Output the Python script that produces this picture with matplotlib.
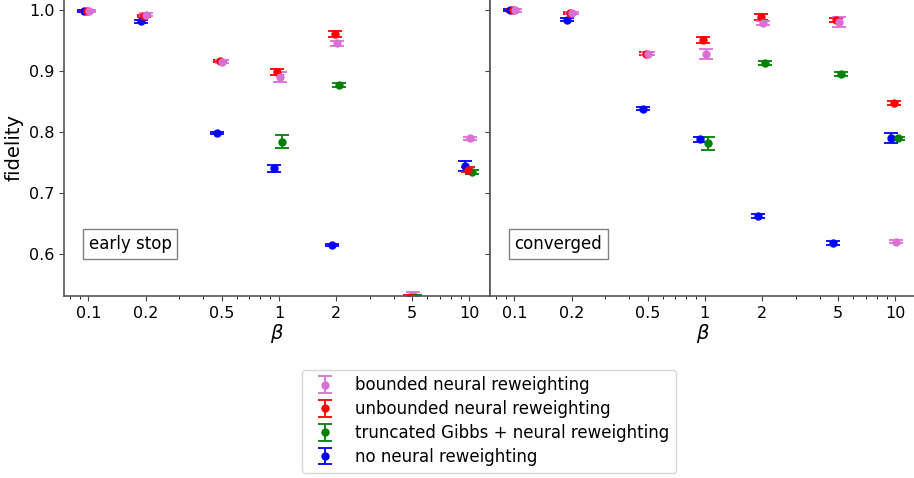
import numpy as np
import matplotlib
matplotlib.use("Agg")
import matplotlib.pyplot as plt
from matplotlib.ticker import FixedLocator, FixedFormatter, LogLocator, NullFormatter

betas = [0.1, 0.2, 0.5, 1, 2, 5, 10]
beta_labels = ["0.1", "0.2", "0.5", "1", "2", "5", "10"]

labels = ["bounded neural reweighting", "unbounded neural reweighting",
          "truncated Gibbs + neural reweighting", "no neural reweighting"]
colors = ["orchid", "red", "green", "blue"]
shift = [1.008, 0.98, 1.037, 0.945]   # horizontal dodge per series

# early stop panel (NaN = not run)
early_bounded = [0.998, 0.992, 0.915, 0.890, 0.945, 0.526, 0.789]
early_bounded_err = [0.002, 0.002, 0.002, 0.008, 0.004, 0.011, 0.002]
early_unbounded = [0.998, 0.990, 0.916, 0.898, 0.960, 0.529, 0.738]
early_unbounded_err = [0.002, 0.002, 0.002, 0.0045, 0.005, 0.004, 0.004]
early_gibbs = [np.nan, np.nan, np.nan, 0.784, 0.877, 0.529, 0.734]
early_gibbs_err = [0, 0, 0, 0.011, 0.003, 0.003, 0.003]
early_none = [0.998, 0.981, 0.798, 0.740, 0.614, 0.45, 0.744]
early_none_err = [0.002, 0.002, 0.002, 0.0055, 0.002, 0.002, 0.008]

# converged panel
conv_bounded = [0.999, 0.995, 0.928, 0.927, 0.978, 0.980, 0.620]
conv_bounded_err = [0.002, 0.002, 0.002, 0.008, 0.003, 0.0075, 0.002]
conv_unbounded = [0.999, 0.995, 0.928, 0.951, 0.988, 0.983, 0.847]
conv_unbounded_err = [0.002, 0.002, 0.002, 0.005, 0.005, 0.003, 0.003]
conv_gibbs = [np.nan, np.nan, np.nan, 0.781, 0.913, 0.895, 0.789]
conv_gibbs_err = [0, 0, 0, 0.011, 0.003, 0.003, 0.002]
conv_none = [1.0, 0.984, 0.838, 0.788, 0.662, 0.618, 0.790]
conv_none_err = [0.002, 0.002, 0.002, 0.004, 0.003, 0.003, 0.008]

panels = [
    ("early stop", [early_bounded, early_unbounded, early_gibbs, early_none],
     [early_bounded_err, early_unbounded_err, early_gibbs_err, early_none_err]),
    ("converged", [conv_bounded, conv_unbounded, conv_gibbs, conv_none],
     [conv_bounded_err, conv_unbounded_err, conv_gibbs_err, conv_none_err]),
]

fig = plt.figure(figsize=(9.14, 4.78), dpi=100)
ax1 = fig.add_axes([0.070, 0.381, 0.466, 0.619])
ax2 = fig.add_axes([0.536, 0.381, 0.466, 0.619], sharey=ax1)

handles = []
for ax, (name, series, errs) in zip([ax1, ax2], panels):
    # draw no-reweighting first so it sits underneath
    for i in [3, 2, 1, 0]:
        x = np.array(betas) * shift[i]
        h = ax.errorbar(x, series[i], yerr=errs[i], fmt="o", color=colors[i],
                        ms=5, capsize=5, elinewidth=1.3, capthick=1.3,
                        label=labels[i])
        if ax is ax1:
            handles.append(h)
    ax.set_xscale("log")
    ax.set_xlim(0.0744, 12.81)
    ax.set_ylim(0.531, 1.016)
    ax.xaxis.set_major_locator(FixedLocator(betas))
    ax.xaxis.set_major_formatter(FixedFormatter(beta_labels))
    ax.xaxis.set_minor_locator(LogLocator(base=10, subs=np.arange(2, 10)))
    ax.xaxis.set_minor_formatter(NullFormatter())
    ax.set_xlabel(r"$\beta$", fontsize=14, labelpad=1)
    ax.tick_params(labelsize=11.5, colors="#444444", labelcolor="black")
    ax.spines["top"].set_visible(False)
    for s in ["left", "right", "bottom"]:
        ax.spines[s].set_color("#555555")
        ax.spines[s].set_linewidth(1.2)
    ax.text(0.058, 0.145, name, transform=ax.transAxes, fontsize=12,
            ha="left", va="bottom",
            bbox=dict(boxstyle="square,pad=0.35", fc="white", ec="gray"))

ax1.set_yticks([0.6, 0.7, 0.8, 0.9, 1.0])
ax1.set_ylabel("fidelity", fontsize=14)
ax2.tick_params(axis="y", labelleft=False)

fig.legend(handles[::-1], labels, loc="lower center",
           bbox_to_anchor=(0.535, -0.006), fontsize=12, labelspacing=0.35)

fig.savefig("out.png", dpi=100)
